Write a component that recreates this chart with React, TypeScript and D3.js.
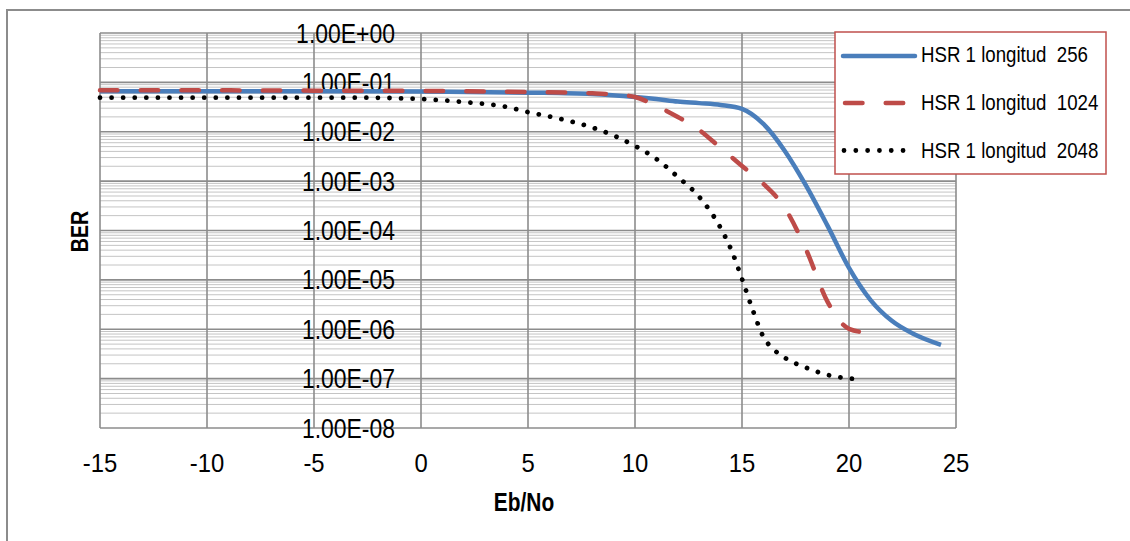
import React from "react";
import * as d3 from "d3";

const xTicks = [-15, -10, -5, 0, 5, 10, 15, 20, 25];
const yTickLabels = ["1.00E+00", "1.00E-01", "1.00E-02", "1.00E-03", "1.00E-04", "1.00E-05", "1.00E-06", "1.00E-07", "1.00E-08"];
const yTickValues = [1, 1e-1, 1e-2, 1e-3, 1e-4, 1e-5, 1e-6, 1e-7, 1e-8];

const x256 = [-15, -10, -5, 0, 5, 8, 10, 11, 12, 13, 14, 15, 16, 17, 18, 19, 20, 21, 22, 23, 24.3];
const ber256 = [0.066, 0.066, 0.066, 0.065, 0.062, 0.058, 0.0506, 0.046, 0.041, 0.038, 0.0349, 0.029, 0.01438, 4.09e-3, 8.0e-4, 1.24e-4, 1.75e-5, 3.94e-6, 1.48e-6, 8.07e-7, 4.8e-7];

const x1024 = [-15, -10, -5, 0, 5, 8, 9, 10, 11, 12, 13, 14, 15, 16, 17, 18, 19, 20, 20.9];
const ber1024 = [0.069, 0.069, 0.068, 0.067, 0.064, 0.06, 0.0569, 0.0506, 0.0333, 0.01995, 0.01087, 4.7e-3, 2.03e-3, 8.8e-4, 2.87e-4, 4.05e-5, 3.59e-6, 1.02e-6, 8.46e-7];

const x2048 = [-15, -10, -5, -3, 0, 2, 4, 5, 6, 7, 8, 9, 10, 11, 12, 13, 14, 14.5, 15, 15.5, 16, 16.5, 17, 18, 19, 20.2];
const ber2048 = [0.049, 0.049, 0.049, 0.049, 0.046, 0.04, 0.0318, 0.025, 0.0204, 0.0162, 0.0122, 8.4e-3, 5.16e-3, 2.81e-3, 1.22e-3, 4.79e-4, 1.13e-4, 4.05e-5, 1.05e-5, 2.47e-6, 7.02e-7, 3.83e-7, 2.64e-7, 1.66e-7, 1.19e-7, 9.9e-8];

const seriesNames = ["HSR 1 longitud  256", "HSR 1 longitud  1024", "HSR 1 longitud  2048"];

const FONT = "'Liberation Sans', Arial, sans-serif";

function NText(props: {
  x: number;
  y: number;
  size: number;
  sx?: number;
  anchor?: "start" | "middle" | "end";
  bold?: boolean;
  rotate?: number;
  children: React.ReactNode;
}) {
  const { x, y, size, sx = 0.82, anchor = "start", bold = false, rotate = 0 } = props;
  return (
    <text
      transform={`translate(${x},${y})${rotate ? ` rotate(${rotate})` : ""} scale(${sx},1)`}
      textAnchor={anchor}
      fontSize={size}
      fontWeight={bold ? "bold" : "normal"}
      fill="#000"
      style={{ whiteSpace: "pre" }}
    >
      {props.children}
    </text>
  );
}

export default function App() {
  const left = 100, right = 956, top = 33, bottom = 428;
  const x = d3.scaleLinear().domain([-15, 25]).range([left, right]);
  const y = d3.scaleLog().domain([1e-8, 1]).range([bottom, top]);

  const minor: number[] = [];
  for (let k = -8; k < 0; k++) {
    for (let m = 2; m <= 9; m++) minor.push(m * Math.pow(10, k));
  }

  const line = d3
    .line<[number, number]>()
    .x((d) => x(d[0]))
    .y((d) => y(d[1]))
    .curve(d3.curveMonotoneX);

  const p256 = line(x256.map((v, i) => [v, ber256[i]] as [number, number])) || "";
  const p1024 = line(x1024.map((v, i) => [v, ber1024[i]] as [number, number])) || "";
  const p2048 = line(x2048.map((v, i) => [v, ber2048[i]] as [number, number])) || "";

  const blue = "#4A7EBB";
  const red = "#BE4B48";

  return (
    <svg
      width={1130}
      height={541}
      style={{ position: "absolute", left: 0, top: 0, background: "#fff" }}
      fontFamily={FONT}
    >
      <rect x={0} y={0} width={1130} height={541} fill="#fff" />
      <rect x={7} y={10} width={1140} height={560} fill="none" stroke="#8C8C8C" strokeWidth={2} />

      {minor.map((v, i) => (
        <line key={"m" + i} x1={left} x2={right} y1={y(v)} y2={y(v)} stroke="#C4C4C4" strokeWidth={1} />
      ))}
      {yTickValues.map((v, i) => (
        <line key={"M" + i} x1={left} x2={right} y1={y(v)} y2={y(v)} stroke="#8C8C8C" strokeWidth={1.6} />
      ))}
      {xTicks.map((v, i) => (
        <line key={"v" + i} x1={x(v)} x2={x(v)} y1={top} y2={bottom} stroke="#8C8C8C" strokeWidth={1.6} />
      ))}

      {yTickValues.map((v, i) => (
        <NText key={"yl" + i} x={395} y={y(v) + 9.5} size={27} sx={0.85} anchor="end">
          {yTickLabels[i]}
        </NText>
      ))}

      <path d={p256} fill="none" stroke={blue} strokeWidth={4.5} strokeLinejoin="round" />
      <path d={p1024} fill="none" stroke={red} strokeWidth={4.5} strokeDasharray="17.5 23.2" strokeLinecap="round" />
      <path d={p2048} fill="none" stroke="#000" strokeWidth={4.8} strokeDasharray="0.01 11.57" strokeLinecap="round" />

      {xTicks.map((v, i) => (
        <NText key={"xl" + i} x={x(v)} y={472} size={26.5} sx={0.9} anchor="middle">
          {String(v)}
        </NText>
      ))}

      <NText x={524} y={511} size={25.5} bold anchor="middle">
        Eb/No
      </NText>
      <NText x={88} y={(top + bottom) / 2 + 1} size={24} bold anchor="middle" rotate={-90}>
        BER
      </NText>

      <rect x={835} y={32} width={271} height={142} fill="#fff" stroke="#C0504D" strokeWidth={1.5} />
      <line x1={843} x2={915} y1={56} y2={56} stroke={blue} strokeWidth={4.5} strokeLinecap="round" />
      <line x1={845} x2={905} y1={103} y2={103} stroke={red} strokeWidth={4.5} strokeDasharray="17.5 23.2" strokeLinecap="round" />
      <line x1={844} x2={904} y1={150.5} y2={150.5} stroke="#000" strokeWidth={4.8} strokeDasharray="0.01 11.8" strokeLinecap="round" />
      {seriesNames.map((s, i) => (
        <NText key={"lg" + i} x={921} y={62 + i * 48} size={22.5} sx={0.83}>
          {s}
        </NText>
      ))}
    </svg>
  );
}
